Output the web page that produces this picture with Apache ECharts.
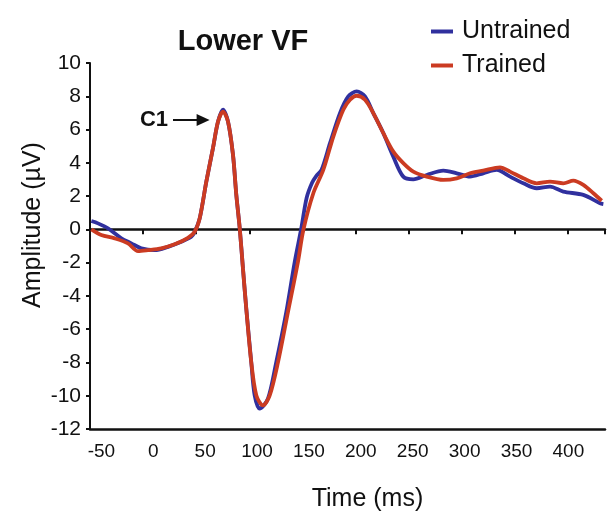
<!DOCTYPE html>
<html>
<head>
<meta charset="utf-8">
<script src="https://cdn.jsdelivr.net/npm/echarts@6/dist/echarts.min.js"></script>
<style>
html,body{margin:0;padding:0;background:#fff;}
#chart{width:616px;height:512px;}
</style>
</head>
<body>
<div id="chart"></div>
<script>
// ---- data (time in ms, amplitude in µV) ----
const untrainedTime = [-59.7,-53.3,-43.7,-30.8,-21.2,-11.6,1.4,14.2,27.0,36.6,39.9,44.7,51.1,57.5,62.4,67.2,72.0,76.8,80.0,83.3,86.4,89.6,94.4,97.7,102.5,110.5,118.5,128.2,136.3,142.6,147.8,153,157,162.3,170.3,179.9,187.9,196.0,204.0,212.0,221.7,231.3,240.9,250.6,263.5,279.5,292.4,305.2,318.0,330.9,343.8,356.6,369.5,382.3,395.1,414.4,430.5,433.7];
const untrainedAmp = [0.50,0.36,0.06,-0.54,-0.84,-1.14,-1.25,-1.05,-0.75,-0.45,-0.14,0.66,2.87,4.88,6.48,7.19,6.48,4.48,2.07,0.06,-2.35,-4.76,-7.98,-9.98,-10.78,-10.18,-7.98,-4.96,-1.95,0.06,1.9,2.8,3.2,3.6,5.18,6.99,7.99,8.29,7.99,6.99,5.78,4.37,3.17,3.01,3.27,3.53,3.37,3.17,3.37,3.57,3.17,2.77,2.47,2.57,2.27,2.07,1.57,1.52];

const trainedTime = [-59.7,-50.1,-37.2,-24.4,-14.7,-5.1,7.7,20.6,33.4,39.9,44.7,51.1,57.5,62.4,67.2,72.0,76.8,80.0,83.3,86.4,89.6,94.4,99.3,105.7,112.2,120.2,129.8,139.4,144.6,154.2,163.8,173.5,183.1,189.6,196.0,204.0,212.0,221.7,231.3,240.9,250.6,263.5,279.5,292.4,305.2,318.0,334.1,343.8,356.6,369.5,382.3,395.1,404.8,414.4,424.1,432.1];
const trainedAmp = [0,-0.34,-0.54,-0.84,-1.31,-1.25,-1.14,-0.90,-0.51,-0.14,0.66,2.87,4.88,6.48,7.08,6.48,4.48,2.07,0.06,-2.35,-4.76,-7.98,-9.98,-10.58,-9.98,-7.98,-4.96,-1.95,-0.04,2.17,3.57,5.58,7.19,7.79,8.03,7.79,6.99,5.78,4.67,3.98,3.47,3.17,2.97,3.07,3.37,3.53,3.73,3.47,3.07,2.77,2.87,2.77,2.93,2.67,2.17,1.72];

const xTickLabels = [-50,0,50,100,150,200,250,300,350,400];
const yTickLabels = [-12,-10,-8,-6,-4,-2,0,2,4,6,8,10];

// C1 annotation arrow: [time start, time end, amplitude]
const c1Arrow = [19.0, 48.0, 6.58];

const seriesNames = ['Untrained', 'Trained'];
const seriesColors = ['#30309E', '#CB3B22'];

function pairs(t, v) { return t.map((x, i) => [x, v[i]]); }

const FONT = '"Liberation Sans", Arial, Helvetica, sans-serif';
const chart = echarts.init(document.getElementById('chart'), null, {renderer: 'canvas'});

chart.setOption({
  animation: false,
  backgroundColor: '#ffffff',
  textStyle: {fontFamily: FONT},
  title: {
    text: 'Lower VF',
    left: 238,
    top: 22,
    textAlign: 'center',
    textStyle: {fontFamily: FONT, fontWeight: 'bold', fontSize: 29, color: '#111'}
  },
  legend: {
    orient: 'vertical',
    left: 426,
    top: 14,
    itemWidth: 22,
    itemHeight: 4,
    itemGap: 9,
    icon: 'rect',
    data: seriesNames,
    textStyle: {fontFamily: FONT, fontSize: 25, color: '#111', padding: [0, 0, 0, 4]}
  },
  grid: {left: 90, right: 11, top: 63, bottom: 83, containLabel: false, outerBoundsMode: 'none'},
  xAxis: [{
    type: 'value',
    min: -61,
    max: 435.3,
    position: 'bottom',
    name: 'Time (ms)',
    nameLocation: 'middle',
    nameGap: 58,
    nameTextStyle: {fontFamily: FONT, fontSize: 25, color: '#111', padding: [0, 0, 0, 40]},
    axisLine: {show: true, onZero: false, lineStyle: {color: '#111', width: 2.5}},
    axisTick: {show: false},
    splitLine: {show: false},
    axisLabel: {
      customValues: xTickLabels,
      fontFamily: FONT, fontSize: 19, color: '#111', margin: 13,
      showMinLabel: true, showMaxLabel: true
    }
  }, {
    type: 'value',
    min: -50,
    max: 435,
    interval: 50,
    position: 'top',
    axisLine: {show: true, onZero: true, lineStyle: {color: '#111', width: 2.5}},
    axisTick: {show: true, inside: true, length: 5, lineStyle: {color: '#111', width: 2}},
    axisLabel: {show: false},
    splitLine: {show: false}
  }],
  yAxis: {
    type: 'value',
    min: -12,
    max: 10,
    interval: 2,
    name: 'Amplitude (µV)',
    nameLocation: 'middle',
    nameGap: 44,
    nameMoveOverlap: false,
    nameRotate: 90,
    nameTextStyle: {fontFamily: FONT, fontSize: 25, color: '#111', padding: [0, 0, 0, 42]},
    axisLine: {show: true, onZero: false, lineStyle: {color: '#111', width: 2}},
    axisTick: {show: true, inside: false, length: 4, lineStyle: {color: '#111', width: 2}},
    splitLine: {show: false},
    axisLabel: {fontFamily: FONT, fontSize: 21, color: '#111', margin: 9}
  },
  series: [{
    name: seriesNames[0],
    type: 'line',
    xAxisIndex: 0,
    data: pairs(untrainedTime, untrainedAmp),
    smooth: 0.3,
    showSymbol: false,
    color: seriesColors[0],
    lineStyle: {width: 3.8, color: seriesColors[0]},
    z: 3,
    markLine: {
      silent: true,
      symbol: ['none', 'triangle'],
      symbolSize: [12, 13],
      lineStyle: {color: '#111', width: 2, type: 'solid'},
      label: {
        show: true, position: 'start', formatter: 'C1', distance: 5,
        fontFamily: FONT, fontWeight: 'bold', fontSize: 22, color: '#111'
      },
      data: [[{coord: [c1Arrow[0], c1Arrow[2]]}, {coord: [c1Arrow[1], c1Arrow[2]]}]]
    }
  }, {
    name: seriesNames[1],
    type: 'line',
    xAxisIndex: 0,
    data: pairs(trainedTime, trainedAmp),
    smooth: 0.3,
    showSymbol: false,
    color: seriesColors[1],
    lineStyle: {width: 3.8, color: seriesColors[1]},
    z: 4
  }]
});
</script>
</body>
</html>
